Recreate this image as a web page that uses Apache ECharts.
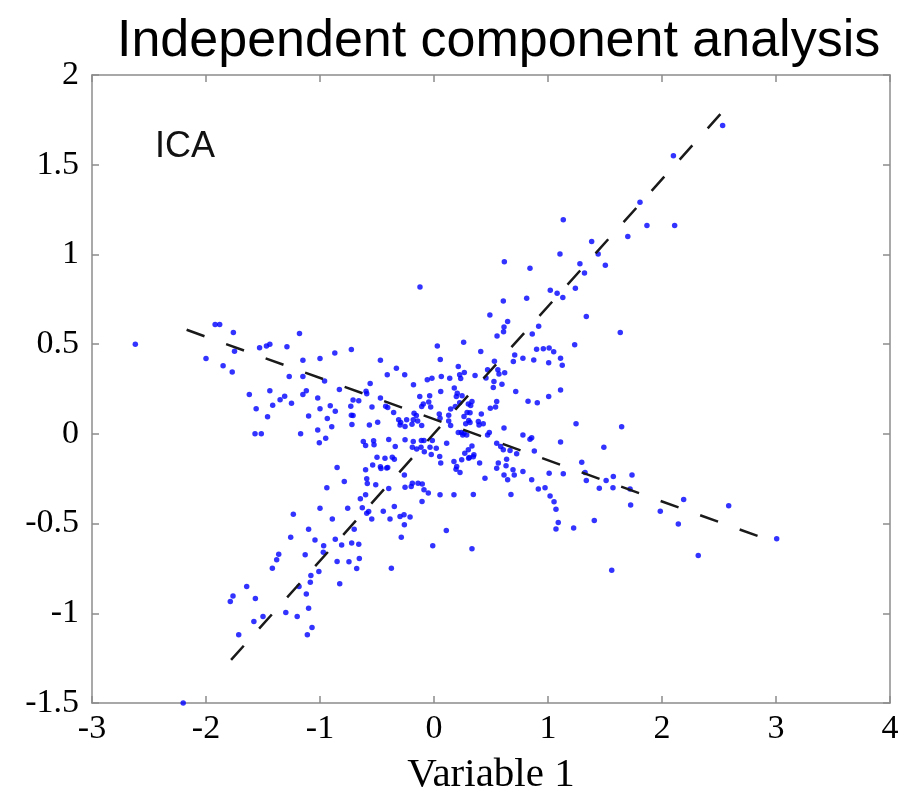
<!DOCTYPE html>
<html>
<head>
<meta charset="utf-8">
<script src="https://cdn.jsdelivr.net/npm/echarts@6/dist/echarts.min.js"></script>
<style>
  html, body { margin: 0; padding: 0; background: #fff; }
  #chart { width: 915px; height: 797px; }
</style>
</head>
<body>
<div id="chart"></div>
<script>
// axis ranges / labels
var titleText = 'Independent component analysis';
var xName = 'Variable 1';
var xMin = -3, xMax = 4, xStep = 1;
var yMin = -1.5, yMax = 2, yStep = 0.5;

// the two independent component directions (dashed lines)
var icaAxis1 = [[-1.78, -1.26], [2.58, 1.83]];
var icaAxis2 = [[-2.17, 0.58], [2.93, -0.59]];

// scatter samples
var leftArm = [
  [-2.62,0.50],[-1.92,0.61],[-1.88,0.61],[-1.76,0.565],[-2.0,0.42],[-1.85,0.38],[-1.77,0.345],[-1.75,0.46],
  [-1.18,0.56],[-1.53,0.48],[-1.47,0.49],[-1.44,0.50],[-1.29,0.485],[-1.15,0.41],[-1.15,0.32],[-1.27,0.32],
  [-1.0,0.42],[-0.87,0.45],[-0.725,0.47],[-0.47,0.41],[-0.41,0.33],[-0.56,0.28],[-0.96,0.295],[-1.62,0.22],
  [-1.44,0.24],[-1.31,0.21],[-1.35,0.19],[-1.415,0.16],[-1.25,0.17],[-1.56,0.14],[-1.46,0.095],[-1.57,0.0],
  [-1.515,0.0],[-1.17,0.0],[-1.15,0.22],[-1.12,0.24],[-1.02,0.2],[-1.0,0.14],[-1.1,0.1],[-0.91,0.156],
  [-0.866,0.126],[-0.936,0.085],[-0.897,0.039],[-1.02,0.022],[-1.006,-0.05],[-0.95,-0.024],[-0.83,0.247],
  [-0.71,0.188],[-0.66,0.184],[-0.596,0.238],[-0.59,0.223],[-0.73,0.154],[-0.725,0.104],[-0.71,0.102],
  [-0.72,0.052],[-0.544,0.15],[-0.47,0.2],[-0.424,0.154],[-0.406,0.147],[-0.567,0.05],[-0.494,0.065],
  [-0.397,-0.032],[-0.62,-0.043],[-0.60,-0.065],[-0.53,-0.039],[-0.526,-0.061],[-0.5,-0.13],[-0.538,-0.173],
  [-0.47,-0.184],[-0.465,-0.193],[-0.415,-0.19],[-0.406,-0.188],[-0.60,-0.2],[-0.85,-0.188],[-0.59,-0.25],
  [-0.43,-0.136]
];
var centre = [
  [-0.123,0.818],[0.029,0.49],[0.26,0.511],[0.41,0.459],[0.055,0.414],[-0.33,0.366],[0.213,0.375],
  [-0.257,0.329],[-0.059,0.301],[-0.018,0.31],[0.064,0.319],[0.138,0.31],[0.225,0.329],[0.266,0.342],
  [0.36,0.325],[0.47,0.357],[0.456,0.312],[0.53,0.405],[0.56,0.357],[0.57,0.334],[0.62,0.34],[0.234,0.308],
  [-0.18,0.273],[0.059,0.236],[-0.125,0.208],[-0.038,0.213],[-0.046,0.178],[0.178,0.255],[0.204,0.227],
  [0.196,0.208],[0.246,0.213],[0.526,0.292],[0.52,0.258],[0.596,0.277],[0.717,0.236],[0.55,0.18],
  [0.54,0.149],[0.494,0.143],[0.415,0.111],[0.432,0.056],[0.389,0.069],[0.395,0.05],[0.301,0.167],
  [0.322,0.158],[0.333,0.18],[0.29,0.119],[0.316,0.117],[0.263,0.097],[0.304,0.074],[0.316,0.063],
  [0.278,0.057],[0.225,0.173],[0.187,0.152],[0.146,0.139],[0.046,0.111],[0.129,0.104],[0.146,0.046],
  [-0.094,0.167],[-0.108,0.152],[-0.029,0.149],[-0.175,0.115],[-0.155,0.102],[-0.182,0.078],[-0.193,0.054],
  [-0.143,0.072],[-0.108,0.046],[-0.354,0.119],[-0.292,0.063],[-0.24,0.078],[-0.31,0.078],[-0.254,0.041],
  [-0.298,0.05],[-0.366,-0.13],[-0.348,-0.141],[-0.34,-0.071],
  [-0.254,-0.033],[-0.182,-0.043],[-0.111,-0.037],[-0.088,-0.037],[-0.015,-0.037],[-0.19,-0.074],
  [-0.152,-0.085],[-0.114,-0.074],[-0.035,-0.074],[0.02,-0.08],[-0.085,-0.1],[-0.024,-0.115],
  [0.053,0.087],[0.129,0.071],[0.111,-0.052],[0.213,0.007],[0.24,0.007],[0.252,-0.007],[0.263,0.004],
  [0.287,-0.006],[0.333,-0.067],[0.301,-0.089],[0.27,-0.108],[0.31,-0.132],[0.35,-0.117],
  [0.485,0.007],[0.47,-0.006],[0.55,-0.052],[0.585,-0.071],[0.614,0.032],[0.608,-0.089],[0.667,-0.093],
  [0.725,-0.111],[0.78,-0.006],[0.842,-0.03],[0.857,-0.021],[0.88,-0.095],
  [0.05,-0.126],[0.059,-0.163],[0.175,-0.154],[0.193,-0.197],[0.243,-0.145],[0.304,-0.136],[0.345,-0.128],
  [0.4,-0.163],[0.199,-0.182],[0.228,-0.216],[0.447,-0.247],[0.345,-0.338],[0.175,-0.34],[0.053,-0.34],
  [-0.05,-0.33],[-0.103,-0.279],[-0.088,-0.312],[-0.14,-0.275],[-0.19,-0.275],[-0.2,-0.294],[-0.26,-0.229],
  [-0.254,-0.297]
];
var upperArm = [
  [1.105,1.003],[1.44,1.003],[0.617,0.959],[0.842,0.923],[1.28,0.948],[1.503,0.94],[1.32,0.896],
  [0.608,0.741],[1.02,0.80],[1.08,0.784],[1.13,0.76],[1.24,0.812],[0.813,0.756],[0.49,0.663],[0.646,0.626],
  [0.614,0.595],[0.61,0.569],[0.553,0.545],[0.918,0.6],[0.862,0.556],[1.336,0.654],[1.634,0.565],
  [1.234,0.496],[0.708,0.439],[0.696,0.403],[0.78,0.422],[0.875,0.412],[0.9,0.472],[0.959,0.474],
  [1.01,0.478],[1.05,0.457],[1.006,0.396],[1.11,0.422],[1.125,0.383],[0.825,0.182],[0.906,0.173],
  [1.006,0.208],[1.11,0.244],
  [2.532,1.718],[2.10,1.55],[1.807,1.291],[1.868,1.161],[2.111,1.161],[1.134,1.193],[1.70,1.10],[1.383,1.072]
];
var rightArm = [
  [1.11,-0.045],[1.246,0.057],[1.646,0.039],[1.49,-0.074],
  [0.55,-0.191],[0.564,-0.163],[0.637,-0.141],[0.632,-0.178],[0.693,-0.2],[0.614,-0.229],[0.646,-0.256],
  [0.704,-0.229],[0.78,-0.21],[0.857,-0.256],[1.01,-0.219],[1.134,-0.223],[1.325,-0.216],[1.296,-0.158],
  [1.336,-0.26],[1.45,-0.303],[1.573,-0.238],[1.57,-0.3],[1.737,-0.229],[1.72,-0.308],[1.51,-0.26],
  [0.915,-0.308],[0.974,-0.3],[1.018,-0.346],[0.675,-0.338],
  [1.725,-0.397],[1.053,-0.379],[1.07,-0.42],[1.09,-0.494],[1.07,-0.53],[1.225,-0.524],[1.406,-0.483],
  [1.985,-0.431],[2.19,-0.366],[2.143,-0.503],[2.585,-0.40],[3.006,-0.584],[2.318,-0.678],[1.559,-0.76],
  [0.333,-0.641]
];
var lowerArm = [
  [-0.585,-0.277],[-0.511,-0.284],[-0.6,-0.34],[-0.646,-0.362],
  [-0.397,-0.305],[-0.105,-0.377],[-0.757,-0.414],[-0.629,-0.412],[-0.59,-0.442],[-0.573,-0.433],
  [-0.546,-0.475],[-0.445,-0.431],[-0.348,-0.405],[-0.386,-0.475],[-0.298,-0.461],[-0.263,-0.451],
  [-0.21,-0.464],[-0.26,-0.506],[-0.287,-0.576],[-0.787,-0.266],[-0.94,-0.3],[-1.0,-0.414],[-0.892,-0.475],
  [-1.234,-0.448],[-1.10,-0.531],[-1.257,-0.576],[-1.044,-0.591],[-0.968,-0.624],[-0.971,-0.66],
  [-0.866,-0.587],[-0.81,-0.619],[-0.722,-0.608],[-0.66,-0.615],[-0.70,-0.531],[-0.655,-0.695],
  [-0.678,-0.75],[-0.746,-0.713],[-0.85,-0.712],[-1.01,-0.767],[-1.08,-0.79],[-1.085,-0.827],
  [-0.827,-0.836],[-1.13,-0.674],[-1.362,-0.671],[-1.38,-0.702],[-1.418,-0.749],[-1.184,-0.851],
  [-1.12,-0.892],[-1.643,-0.851],[-1.763,-0.903],[-1.787,-0.935],[-1.567,-0.918],[-1.1,-0.972],
  [-1.3,-0.996],[-1.2,-1.018],[-1.5,-1.018],[-1.58,-1.046],[-1.07,-1.079],[-1.111,-1.119],[-1.713,-1.12],
  [-0.374,-0.749],[-0.011,-0.623],[0.108,-0.539],[-2.2,-1.5]
];

var samples = leftArm.concat(centre, upperArm, rightArm, lowerArm);

var chart = echarts.init(document.getElementById('chart'), null, { renderer: 'canvas' });

var serif = '"Liberation Serif", "DejaVu Serif", serif';
var sans = '"Liberation Sans", Arial, sans-serif';
var frameLine = { show: true, onZero: false, lineStyle: { color: '#8c8c8c', width: 1.5 } };
var frameTick = { show: true, inside: true, length: 7, lineStyle: { color: '#8c8c8c', width: 1.5 } };

var option = {
  backgroundColor: '#ffffff',
  animation: false,
  title: {
    text: titleText,
    left: 112,
    top: 11,
    textStyle: { fontFamily: sans, fontSize: 52, fontWeight: 'normal', color: '#000' }
  },
  graphic: [{
    type: 'text',
    left: 155,
    top: 129,
    style: { text: 'ICA', fontFamily: sans, fontSize: 36, fill: '#111' }
  }],
  grid: { left: 92, right: 25, top: 75, bottom: 94, outerBoundsMode: 'none' },
  xAxis: [{
    type: 'value', min: xMin, max: xMax, interval: xStep,
    name: xName, nameLocation: 'middle', nameGap: 52,
    nameTextStyle: { fontFamily: serif, fontSize: 41, color: '#000' },
    axisLine: frameLine, axisTick: frameTick, splitLine: { show: false },
    axisLabel: { fontFamily: serif, fontSize: 34, color: '#000', margin: 9 }
  }, {
    type: 'value', position: 'top', min: xMin, max: xMax, interval: xStep,
    axisLine: frameLine, axisTick: frameTick, splitLine: { show: false },
    axisLabel: { show: false }
  }],
  yAxis: [{
    type: 'value', min: yMin, max: yMax, interval: yStep,
    axisLine: frameLine, axisTick: frameTick, splitLine: { show: false },
    axisLabel: { fontFamily: serif, fontSize: 34, color: '#000', margin: 13 }
  }, {
    type: 'value', position: 'right', min: yMin, max: yMax, interval: yStep,
    axisLine: frameLine, axisTick: frameTick, splitLine: { show: false },
    axisLabel: { show: false }
  }],
  series: [{
    type: 'line', data: icaAxis1, symbol: 'none', silent: true,
    lineStyle: { color: '#1a1a1a', width: 2.5, type: [19, 23] }
  }, {
    type: 'line', data: icaAxis2, symbol: 'none', silent: true,
    lineStyle: { color: '#1a1a1a', width: 2.5, type: [19, 23] }
  }, {
    type: 'scatter', data: samples, symbol: 'circle', symbolSize: 5.5,
    itemStyle: { color: '#0000ff' }
  }]
};

chart.setOption(option);
</script>
</body>
</html>
